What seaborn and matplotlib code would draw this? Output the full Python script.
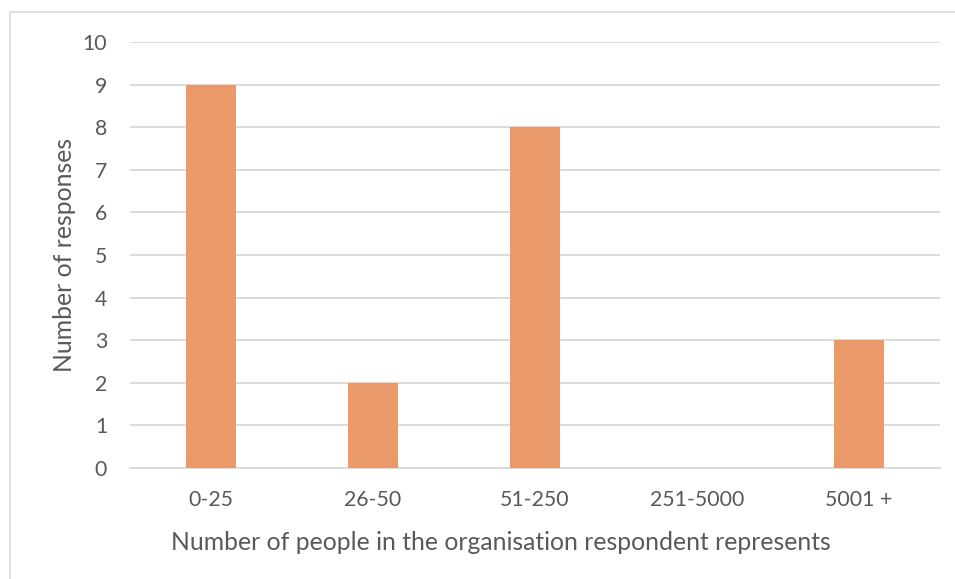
import matplotlib
matplotlib.use("Agg")
import matplotlib.pyplot as plt
import seaborn as sns
import pandas as pd
from matplotlib.patches import Rectangle

categories = ["0-25", "26-50", "51-250", "251-5000", "5001 +"]
responses = [9, 2, 8, 0, 3]
y_ticks = [0, 1, 2, 3, 4, 5, 6, 7, 8, 9, 10]

df = pd.DataFrame({"size": categories, "responses": responses})

sns.set_theme(style="white")
plt.rcParams["font.family"] = ["Lato", "DejaVu Sans"]

text_color = "#595959"
grid_color = "#D9D9D9"
bar_color = "#E9996A"

fig = plt.figure(figsize=(9.55, 5.79), dpi=100)
ax = fig.add_axes([130 / 955, 1 - 468 / 579, 810 / 955, 426 / 579])

sns.barplot(data=df, x="size", y="responses", color=bar_color,
            width=0.31, saturation=1, linewidth=0, ax=ax, zorder=3)

ax.set_ylim(0, 10)
ax.set_xlim(-0.5, len(categories) - 0.5)
ax.set_yticks(y_ticks)
ax.yaxis.grid(True, color=grid_color, linewidth=1.3, zorder=0)
ax.set_axisbelow(True)
for side in ["left", "right", "top"]:
    ax.spines[side].set_visible(False)
ax.spines["bottom"].set_color(grid_color)
ax.spines["bottom"].set_linewidth(1.3)
ax.tick_params(axis="both", length=0, colors=text_color, labelsize=15.3)
ax.tick_params(axis="y", pad=16.5)
ax.tick_params(axis="x", pad=16)

ax.set_xlabel("Number of people in the organisation respondent represents",
              fontsize=17.8, color=text_color)
ax.set_ylabel("Number of responses", fontsize=17.8, color=text_color)
ax.xaxis.set_label_coords(0.458, -0.149)
ax.yaxis.set_label_coords(-0.067, 0.5)

# chart area border
fig.patches.append(Rectangle((10 / 955, -0.1), 1.2, 1 - 12 / 579 + 0.1,
                             transform=fig.transFigure, fill=False,
                             edgecolor="#D9D9D9", linewidth=1.2))

fig.savefig("out.png", dpi=100, facecolor="white")
